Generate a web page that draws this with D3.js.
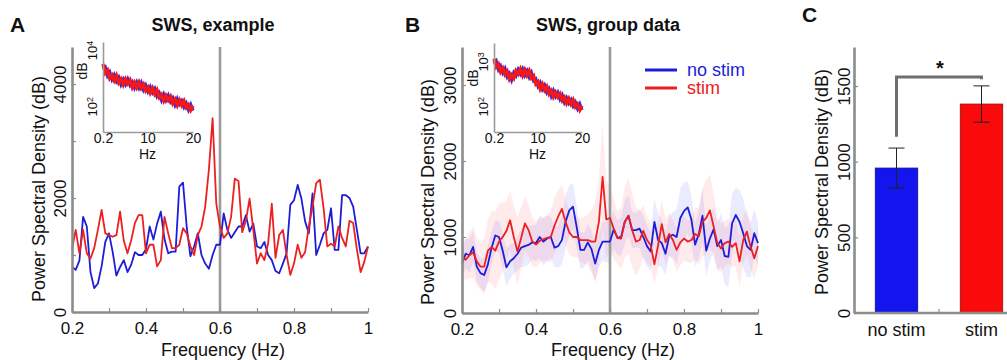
<!DOCTYPE html>
<html>
<head>
<meta charset="utf-8">
<script src="https://cdn.jsdelivr.net/npm/d3@7"></script>
<style>
  body { margin: 0; background: #fff; }
  svg { font-family: "Liberation Sans", Arial, Helvetica, sans-serif; }
</style>
</head>
<body>
<div id="chart"></div>
<script>
// ---- data ----
// frequency grid for main spectra, 0.2 .. 1.0 Hz in 0.01 steps
const freqs = d3.range(81).map(i => +(0.2 + i * 0.01).toFixed(2));

// Panel A: single example
const blueA = [796, 740, 900, 1670, 1500, 700, 420, 500, 800, 1230,
    1380, 1050, 640, 790, 910, 700, 830, 1050, 1000, 1000,
    1100, 1500, 1270, 1550, 1760, 1280, 1030, 1060, 1060, 2200,
    2270, 1500, 980, 1150, 1380, 1000, 850, 760, 1000, 1180,
    1180,
    1730, 1440, 1300, 1400, 1500, 1500, 1700, 1410, 1550, 1150,
    1120, 1230, 1000, 910, 720, 680, 850, 1030, 1880, 1960,
    2230, 1990, 1590, 1380, 2080, 1000, 1180, 1380, 1440, 1820,
    1090, 1090, 2050, 2050, 2000, 1850, 1440, 1030, 1030, 1150];
const redA = [1100, 1440, 1030, 1440, 1030, 940, 1120, 1440, 1790, 1380,
    1350, 1320, 1350, 1760, 1250, 1030, 1260, 1560, 1700, 1700,
    1030, 1180, 1180, 800, 910, 1670, 1380, 1120, 1120, 1180,
    1470, 1380, 1150, 1000, 1350, 1500, 1850, 2500, 3400, 1900,
    1500,
    1300, 1380, 1670, 2340, 2300, 1400, 1600, 1990, 1440, 850,
    1030, 910, 1200, 1900, 950, 1350, 1440, 1000, 650, 850,
    1180, 950, 1050, 1500, 1850, 2260, 2320, 1820, 1150, 1200,
    1150, 1500, 1300, 1150, 1600, 1560, 1100, 700, 880, 1150];

// Panel B: group mean and sem
const blueB = [650, 780, 760, 870, 610, 525, 500, 640, 860, 1020,
    1000, 820, 600, 680, 720, 780, 860, 880, 895, 930,
    920, 1000, 940, 980, 1000, 860, 880, 960, 1200, 1350,
    1400, 1130, 830, 830, 930, 840, 650, 830, 940, 940,
    940,
    1100, 990, 1000, 1200, 1280, 1090, 1090, 1110, 1000, 880,
    810, 1200, 960, 920, 780, 1010, 1030, 1000, 1250, 1340,
    1390, 1230, 900, 1040, 1280, 820, 980, 1100, 880, 960,
    750, 740, 1180, 1290, 1200, 1050, 880, 830, 1050, 920];
const redB = [740, 700, 760, 800, 680, 610, 610, 820, 870, 820,
    940, 1000, 1080, 1220, 1000, 810, 990, 1180, 1090, 940,
    900, 950, 970, 990, 1000, 1150, 1270, 1370, 1200, 1060,
    1000, 1000, 960, 960, 960, 940, 940, 1200, 1790, 1230,
    1250,
    1110, 990, 980, 1200, 1280, 1090, 940, 960, 1080, 960,
    890, 640, 890, 1170, 930, 1040, 960, 830, 930, 980,
    940, 960, 1040, 1010, 1200, 1250, 1350, 1140, 920, 850,
    920, 940, 870, 920, 680, 960, 1070, 870, 720, 880];
const semBlueB = [170, 195, 225, 210, 190, 200, 225, 240, 220, 195,
    210, 230, 250, 225, 200, 225, 255, 270, 250, 225,
    240, 285, 315, 300, 270, 255, 285, 320, 345, 330,
    300, 270, 250, 225, 240, 260, 250, 230, 255, 270,
    285, 250, 225, 255, 285, 270, 240, 225, 255, 285,
    270, 250, 300, 340, 315, 285, 260, 300, 360, 390,
    375, 345, 315, 285, 320, 350, 330, 300, 285, 315,
    345, 375, 405, 390, 360, 420, 450, 405, 360, 315, 285];
const semRedB = [240, 265, 305, 335, 320, 305, 360, 415, 480, 510,
    495, 450, 400, 385, 415, 450, 400, 360, 335, 320,
    305, 290, 280, 305, 335, 370, 350, 320, 305, 290,
    270, 265, 280, 305, 335, 415, 520, 575, 700, 510,
    430, 385, 350, 400, 465, 495, 480, 450, 385, 335,
    305, 280, 265, 290, 320, 305, 280, 265, 290, 305,
    290, 270, 305, 335, 385, 450, 495, 480, 415, 350,
    320, 305, 290, 270, 305, 335, 320, 305, 290, 270, 265];

// insets: 0.2 .. 20 Hz, values as log10(dB)
const insetFreqs = d3.range(41).map(i => +(0.2 + i * 0.495).toFixed(3));
const insetRedA = [3.52, 3.20, 3.30, 3.01, 3.12, 2.93, 3.10, 2.85, 2.98, 2.78,
    2.98, 2.82, 2.95, 2.69, 2.86, 2.68, 2.87, 2.66, 2.79, 2.57,
    2.69, 2.49, 2.66, 2.45, 2.59, 2.33, 2.43, 2.21, 2.39, 2.23,
    2.36, 2.12, 2.26, 2.05, 2.23, 2.05, 2.20, 1.97, 2.07, 1.88, 2.03];
const insetBlueA = [3.35, 3.41, 3.10, 3.23, 2.97, 3.13, 2.90, 3.04, 2.79, 2.97,
    2.79, 2.98, 2.76, 2.88, 2.67, 2.87, 2.67, 2.85, 2.60, 2.76,
    2.54, 2.70, 2.50, 2.64, 2.37, 2.49, 2.24, 2.44, 2.23, 2.40,
    2.18, 2.31, 2.07, 2.28, 2.09, 2.21, 1.99, 2.12, 1.89, 2.07, 1.86];
const insetRedB = [3.07, 2.89, 2.95, 2.78, 2.86, 2.72, 2.79, 2.62, 2.71, 2.64,
    2.80, 2.73, 2.84, 2.70, 2.82, 2.70, 2.80, 2.64, 2.69, 2.51,
    2.56, 2.40, 2.50, 2.37, 2.45, 2.29, 2.36, 2.22, 2.32, 2.22,
    2.29, 2.14, 2.21, 2.08, 2.18, 2.06, 2.15, 2.00, 2.06, 1.93, 2.02];
const insetBlueB = [2.96, 3.02, 2.83, 2.91, 2.76, 2.85, 2.67, 2.74, 2.60, 2.76,
    2.69, 2.83, 2.73, 2.84, 2.70, 2.80, 2.66, 2.76, 2.58, 2.62,
    2.46, 2.54, 2.39, 2.48, 2.32, 2.40, 2.24, 2.36, 2.23, 2.32,
    2.17, 2.26, 2.10, 2.20, 2.08, 2.16, 2.02, 2.10, 1.96, 2.06, 1.93];

// Panel C: bar means and sem
const barCategories = ["no stim", "stim"];
const barMeans = [958, 1381];
const barSems = [132, 120];
const sigBracket = [1165, 1560, 1545]; // left leg bottom, top, right leg bottom

const xTicks = [0.2, 0.4, 0.6, 0.8, 1];

// ---- styles ----
const BLUE = "#1d1dd8";
const RED = "#ec2020";
const AXIS = "#8c8c8c";

const W = 1007, H = 360;
const svg = d3.select("#chart").append("svg").attr("width", W).attr("height", H);

function yAxisLabels(sel, offset) {
    sel.selectAll(".tick text")
        .attr("transform", "rotate(-90)")
        .attr("x", 0)
        .attr("y", -offset)
        .attr("dy", "0.35em")
        .style("text-anchor", "middle");
}

function styleAxis(sel) {
    sel.select(".domain").attr("stroke", AXIS).attr("stroke-width", 2.6);
    sel.selectAll(".tick line").attr("stroke", AXIS).attr("stroke-width", 1.2);
    sel.selectAll(".tick text").attr("fill", "#111").style("font-size", "17px");
}

function drawSpectrumPanel(opts) {
    const x = d3.scaleLinear().domain([0.2, 1]).range([opts.left, opts.right]);
    const y = d3.scaleLinear().domain([0, opts.yMax]).range([opts.bottom, opts.top]);
    const g = svg.append("g");

    // sem bands
    (opts.bands || []).forEach(b => {
        const area = d3.area()
            .x((d, i) => x(freqs[i]))
            .y0((d, i) => y(Math.max(0, b.mean[i] - b.sem[i])))
            .y1((d, i) => y(b.mean[i] + b.sem[i]));
        g.append("path").datum(b.mean).attr("d", area)
            .attr("fill", b.fill).attr("stroke", "none");
    });

    // vertical marker at stim frequency
    g.append("line")
        .attr("x1", x(0.6)).attr("x2", x(0.6))
        .attr("y1", opts.top).attr("y2", opts.bottom)
        .attr("stroke", "#9a9a9a").attr("stroke-width", 2.6);

    const line = d3.line().x((d, i) => x(freqs[i])).y(d => y(d));
    opts.series.forEach(s => {
        g.append("path").datum(s.values).attr("d", line)
            .attr("fill", "none").attr("stroke", s.color)
            .attr("stroke-width", 1.8).attr("stroke-linejoin", "round");
    });

    // axes
    const xAxis = g.append("g")
        .attr("transform", `translate(0,${opts.bottom})`)
        .call(d3.axisBottom(x).tickValues(d3.range(9).map(i => +(0.2 + i * 0.1).toFixed(1)))
            .tickSizeInner(-4).tickSizeOuter(0).tickPadding(10)
            .tickFormat(d => xTicks.includes(d) ? String(d) : ""));
    styleAxis(xAxis);

    const yAxis = g.append("g")
        .attr("transform", `translate(${opts.left},0)`)
        .call(d3.axisLeft(y).tickValues(opts.yTicks)
            .tickSizeInner(-4).tickSizeOuter(0)
            .tickFormat(d => opts.yLabels.includes(d) ? String(d) : ""));
    styleAxis(yAxis);
    yAxisLabels(yAxis, 12);

    g.append("text")
        .attr("x", (opts.left + opts.right) / 2 + 3).attr("y", 356)
        .attr("text-anchor", "middle").style("font-size", "18px").attr("fill", "#111")
        .text("Frequency (Hz)");
    g.append("text")
        .attr("transform", `translate(${opts.yLabelX},${opts.yLabelY}) rotate(-90)`)
        .attr("dy", "0.35em").attr("text-anchor", "middle")
        .style("font-size", "18px").attr("fill", "#111")
        .text("Power Spectral Density (dB)");
    g.append("text")
        .attr("x", opts.titleX).attr("y", 31)
        .attr("text-anchor", "middle").style("font-size", "18px")
        .style("font-weight", "bold").attr("fill", "#111")
        .text(opts.title);
    g.append("text")
        .attr("x", opts.letterX).attr("y", 32)
        .style("font-size", "21px").style("font-weight", "bold").attr("fill", "#111")
        .text(opts.letter);
    return { x, y };
}

function drawInset(opts) {
    const x = d3.scaleLinear().domain([0.2, 20]).range([opts.left, opts.right]);
    const y = d3.scaleLinear().domain(opts.logDomain).range([opts.bottom, opts.top]);
    const g = svg.append("g");
    const line = d3.line().x((d, i) => x(insetFreqs[i])).y(d => y(d));
    g.append("path").datum(opts.blue).attr("d", line)
        .attr("fill", "none").attr("stroke", "#3a2ae0").attr("stroke-width", 3.2);
    g.append("path").datum(opts.red).attr("d", line)
        .attr("fill", "none").attr("stroke", "#f41818").attr("stroke-width", 3.4);

    const xAxis = g.append("g").attr("transform", `translate(0,${opts.bottom})`)
        .call(d3.axisBottom(x).tickValues([0.2, 10, 20]).tickSize(0).tickPadding(1)
            .tickFormat(d => String(d)));
    xAxis.select(".domain").attr("stroke", "#9a9a9a").attr("stroke-width", 1.6);
    xAxis.selectAll(".tick text").attr("fill", "#111").style("font-size", "14px");

    const yAxis = g.append("g").attr("transform", `translate(${opts.left},0)`)
        .call(d3.axisLeft(y).tickValues(opts.logTicks).tickSize(0).tickFormat(""));
    yAxis.select(".domain").attr("stroke", "#9a9a9a").attr("stroke-width", 1.6);

    opts.logTicks.forEach(t => {
        const txt = g.append("text")
            .attr("transform", `translate(${opts.left - 6},${y(t)}) rotate(-90)`)
            .attr("text-anchor", "middle").style("font-size", "13px").attr("fill", "#111");
        txt.append("tspan").text("10");
        txt.append("tspan").attr("dy", "-0.5em").style("font-size", "9px").text(String(t));
    });
    g.append("text")
        .attr("transform", `translate(${opts.left - 21},${opts.dbY}) rotate(-90)`)
        .attr("dy", "0.35em").attr("text-anchor", "middle")
        .style("font-size", "14px").attr("fill", "#111").text("dB");
    g.append("text")
        .attr("x", x(10)).attr("y", 159).attr("text-anchor", "middle")
        .style("font-size", "14px").attr("fill", "#111").text("Hz");
}

// ---- Panel A ----
drawSpectrumPanel({
    left: 72, right: 368, top: 47, bottom: 312, yMax: 4650,
    yTicks: [0, 1000, 2000, 3000, 4000], yLabels: [0, 2000, 4000],
    yLabelX: 39, yLabelY: 189, titleX: 213, title: "SWS, example",
    letterX: 10, letter: "A",
    series: [{ values: blueA, color: BLUE }, { values: redA, color: RED }]
});
drawInset({
    left: 103, right: 193, top: 42, bottom: 132, logDomain: [1.1, 4.3], logTicks: [2, 4],
    dbY: 71, blue: insetBlueA, red: insetRedA
});

// ---- Panel B ----
drawSpectrumPanel({
    left: 462, right: 758, top: 47, bottom: 313, yMax: 3500,
    yTicks: [0, 1000, 2000, 3000], yLabels: [0, 1000, 2000, 3000],
    yLabelX: 428, yLabelY: 192, titleX: 608, title: "SWS, group data",
    letterX: 405, letter: "B",
    bands: [
        { mean: blueB, sem: semBlueB, fill: "rgba(110,110,255,0.14)" },
        { mean: redB, sem: semRedB, fill: "rgba(255,110,110,0.14)" }
    ],
    series: [{ values: blueB, color: BLUE }, { values: redB, color: RED }]
});
drawInset({
    left: 494, right: 582, top: 43, bottom: 132, logDomain: [1.44, 3.42], logTicks: [2, 3],
    dbY: 78, blue: insetBlueB, red: insetRedB
});

// legend
const legend = svg.append("g").attr("transform", "translate(645,70)");
[{ label: "no stim", color: BLUE }, { label: "stim", color: RED }].forEach((d, i) => {
    legend.append("line").attr("x1", 0).attr("x2", 32).attr("y1", i * 18).attr("y2", i * 18)
        .attr("stroke", d.color).attr("stroke-width", 3);
    legend.append("text").attr("x", 42).attr("y", i * 18 + 6)
        .style("font-size", "18px").attr("fill", d.color).text(d.label);
});

// ---- Panel C ----
(function () {
    const left = 854, bottom = 313, top = 47;
    const x = d3.scaleBand().domain(barCategories).range([left, 1024])
        .paddingInner(0.5).paddingOuter(0.25);
    const y = d3.scaleLinear().domain([0, 1758]).range([bottom, top]);
    const g = svg.append("g");
    const colors = ["#1414ee", "#fa0a0a"];
    const strokes = ["#10108a", "#901010"];

    g.selectAll("rect.bar").data(barMeans).join("rect")
        .attr("class", "bar")
        .attr("x", (d, i) => x(barCategories[i]))
        .attr("width", x.bandwidth())
        .attr("y", d => y(d))
        .attr("height", d => bottom - y(d))
        .attr("fill", (d, i) => colors[i])
        .attr("stroke", (d, i) => strokes[i]).attr("stroke-width", 0.8);

    barMeans.forEach((m, i) => {
        const cx = x(barCategories[i]) + x.bandwidth() / 2;
        const s = barSems[i];
        g.append("line").attr("x1", cx).attr("x2", cx).attr("y1", y(m - s)).attr("y2", y(m + s))
            .attr("stroke", "#222").attr("stroke-width", 1);
        [m - s, m + s].forEach(v => {
            g.append("line").attr("x1", cx - 8).attr("x2", cx + 8).attr("y1", y(v)).attr("y2", y(v))
                .attr("stroke", "#222").attr("stroke-width", 1);
        });
    });

    const yAxis = g.append("g").attr("transform", `translate(${left},0)`)
        .call(d3.axisLeft(y).tickValues([0, 500, 1000, 1500]).tickSizeInner(-4).tickSizeOuter(0)
            .tickFormat(d => String(d)));
    styleAxis(yAxis);
    yAxisLabels(yAxis, 10);

    g.append("line").attr("x1", left).attr("x2", W).attr("y1", bottom).attr("y2", bottom)
        .attr("stroke", AXIS).attr("stroke-width", 2.6);
    const midX = (x(barCategories[0]) + x.bandwidth() + x(barCategories[1])) / 2;
    g.append("line").attr("x1", midX).attr("x2", midX).attr("y1", bottom).attr("y2", bottom - 4)
        .attr("stroke", AXIS).attr("stroke-width", 1.2);

    barCategories.forEach(c => {
        g.append("text").attr("x", x(c) + x.bandwidth() / 2).attr("y", 336)
            .attr("text-anchor", "middle").style("font-size", "18px").attr("fill", "#111").text(c);
    });

    // significance bracket
    const bx0 = x(barCategories[0]) + x.bandwidth() / 2;
    const bx1 = x(barCategories[1]) + x.bandwidth() / 2;
    g.append("path")
        .attr("d", `M${bx0},${y(sigBracket[0])}V${y(sigBracket[1])}H${bx1}V${y(sigBracket[2])}`)
        .attr("fill", "none").attr("stroke", "#6e6e6e").attr("stroke-width", 3);
    g.append("text").attr("x", (bx0 + bx1) / 2 + 1).attr("y", y(sigBracket[1]) - 2)
        .attr("text-anchor", "middle").style("font-size", "20px").style("font-weight", "bold")
        .attr("fill", "#111").text("*");

    g.append("text")
        .attr("transform", `translate(822,182) rotate(-90)`)
        .attr("dy", "0.35em").attr("text-anchor", "middle")
        .style("font-size", "18px").attr("fill", "#111")
        .text("Power Spectral Density (dB)");
    g.append("text").attr("x", 802).attr("y", 22)
        .style("font-size", "21px").style("font-weight", "bold").attr("fill", "#111").text("C");
})();
</script>
</body>
</html>
